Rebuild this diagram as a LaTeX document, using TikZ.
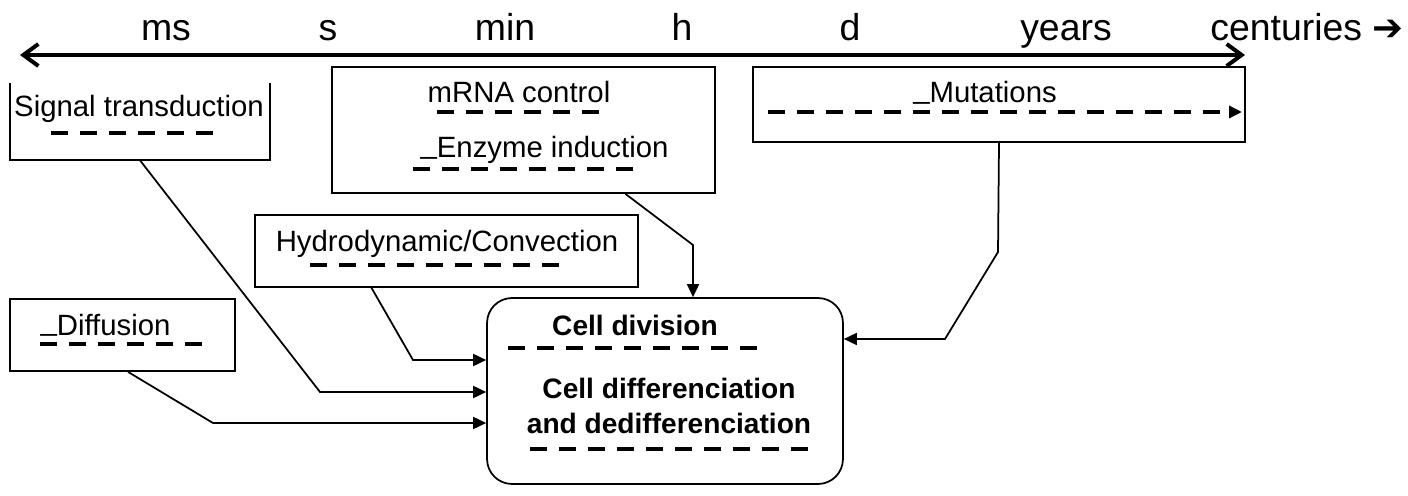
\documentclass[tikz,border=0pt]{standalone}
\usepackage{fontspec}
\setmainfont{Liberation Sans}
\newfontfamily\symfont{DejaVu Sans}
\usetikzlibrary{arrows.meta,calc}
\newcommand{\lowbar}{\raisebox{0.14em}{\_}}
\tikzset{
  frame/.style     = {draw, line width=0.035cm, inner sep=0pt},
  openframe/.style = {inner sep=0pt},
  cellframe/.style = {frame, rounded corners=0.5cm},
  txt/.style       = {font=\fontsize{16.7}{20}\selectfont, inner sep=0pt,
                      anchor=base},
  boldtxt/.style   = {txt, font=\fontsize{16}{19}\selectfont\bfseries},
  scalelbl/.style  = {font=\fontsize{21.3}{25}\selectfont, inner sep=0pt,
                      anchor=base},
  scaleaxis/.style = {{Straight Barb[length=3mm,width=4.4mm]}-%
                      {Straight Barb[length=3mm,width=4.4mm]},
                      line width=0.08cm},
  flow/.style      = {-{Triangle[length=2.6mm,width=2.4mm]},
                      line width=0.035cm},
  bar/.style       = {line width=0.08cm, dash pattern=on 0.34cm off 0.24cm},
  barflow/.style   = {bar, -{Triangle[length=2.6mm,width=2.4mm]}},
}
\begin{document}
\begin{tikzpicture}[x=0.02cm, y=-0.02cm]
  \useasboundingbox (0,0) rectangle (1408,496);

  % ---------- time scale ----------
  \node[scalelbl] (ms)   at (166,41)  {ms};
  \node[scalelbl] (sec)  at (328,41)  {s};
  \node[scalelbl] (mins) at (505,41)  {min};
  \node[scalelbl] (hrs)  at (682,41)  {h};
  \node[scalelbl] (days) at (850,41)  {d};
  \node[scalelbl] (yrs)  at (1066,41) {years};
  \node[scalelbl, anchor=base west] (cent) at (1210,41)
    {centuries {\symfont\fontsize{21}{24}\selectfont\bfseries ➔}};
  \coordinate (axL) at (20,55);
  \coordinate (axR) at (1245,55);
  \draw[scaleaxis] (axL) -- (axR);

  % ---------- process boxes ----------
  \node[openframe, minimum width=5.2cm,  minimum height=1.54cm] (sig)   at (140,121.5) {};
  \node[frame,     minimum width=7.66cm, minimum height=2.52cm] (mrna)  at (523.5,130) {};
  \node[frame,     minimum width=7.66cm, minimum height=1.44cm] (hydro) at (446.5,251) {};
  \node[frame,     minimum width=9.84cm, minimum height=1.5cm]  (mut)   at (999,104.5) {};
  \node[frame,     minimum width=4.5cm,  minimum height=1.44cm] (diff)  at (122.5,335) {};
  \node[cellframe, minimum width=7.12cm, minimum height=3.72cm] (cell)  at (665,391) {};
  \draw[line width=0.035cm] (sig.north west) -- (sig.south west)
    -- (sig.south east) -- (sig.north east);

  % texts
  \node[txt] (sigT)  at (139,117)   {Signal transduction};
  \node[txt] (mrnaT) at (519,103)   {mRNA control};
  \node[txt] (enzT)  at (544.5,158) {\lowbar Enzyme induction};
  \node[txt] (hydT)  at (447,252)   {Hydrodynamic/Convection};
  \node[txt] (mutT)  at (985,103)   {\lowbar Mutations};
  \node[txt] (diffT) at (105.5,335) {\lowbar Diffusion};
  \node[boldtxt] (divT)   at (635,335) {Cell division};
  \node[boldtxt] (difT)   at (669,398) {Cell differenciation};
  \node[boldtxt] (dedifT) at (669,433) {and dedifferenciation};

  % dashed time spans
  \draw[bar] (51,133)  -- (213,133);
  \draw[bar] (437,112) -- (599,112);
  \draw[bar] (413,169) -- (633,169);
  \draw[bar] (310,265) -- (559,265);
  \draw[bar] (40,344)  -- (202,344);
  \draw[bar] (508,348) -- (757,348);
  \draw[bar] (530,449) -- (808,449);
  \draw[barflow] (768,112) -- (1242,112);

  % ---------- connectors ----------
  \coordinate (sigBend)  at (320,392);
  \coordinate (hydOut)   at ($(hydro.south west)!0.305!(hydro.south east)$);
  \coordinate (hydBend)  at (413,360);
  \coordinate (diffOut)  at ([xshift=0.11cm]diff.south);
  \coordinate (diffBend) at (213,423);
  \coordinate (mrnaOut)  at ($(mrna.south west)!0.765!(mrna.south east)$);
  \coordinate (mrnaBend) at (693,245);
  \coordinate (mutBendA) at (998,252);
  \coordinate (mutBendB) at (945,339);

  \draw[flow] (sig.south) -- (sigBend) -- (sigBend -| cell.west);
  \draw[flow] (hydOut) -- (hydBend) -- (hydBend -| cell.west);
  \draw[flow] (diffOut) -- (diffBend) -- (diffBend -| cell.west);
  \draw[flow] (mrnaOut) -- (mrnaBend) -- (mrnaBend |- cell.north);
  \draw[flow] (mut.south) -- (mutBendA) -- (mutBendB) -- (mutBendB -| cell.east);

\end{tikzpicture}
\end{document}
